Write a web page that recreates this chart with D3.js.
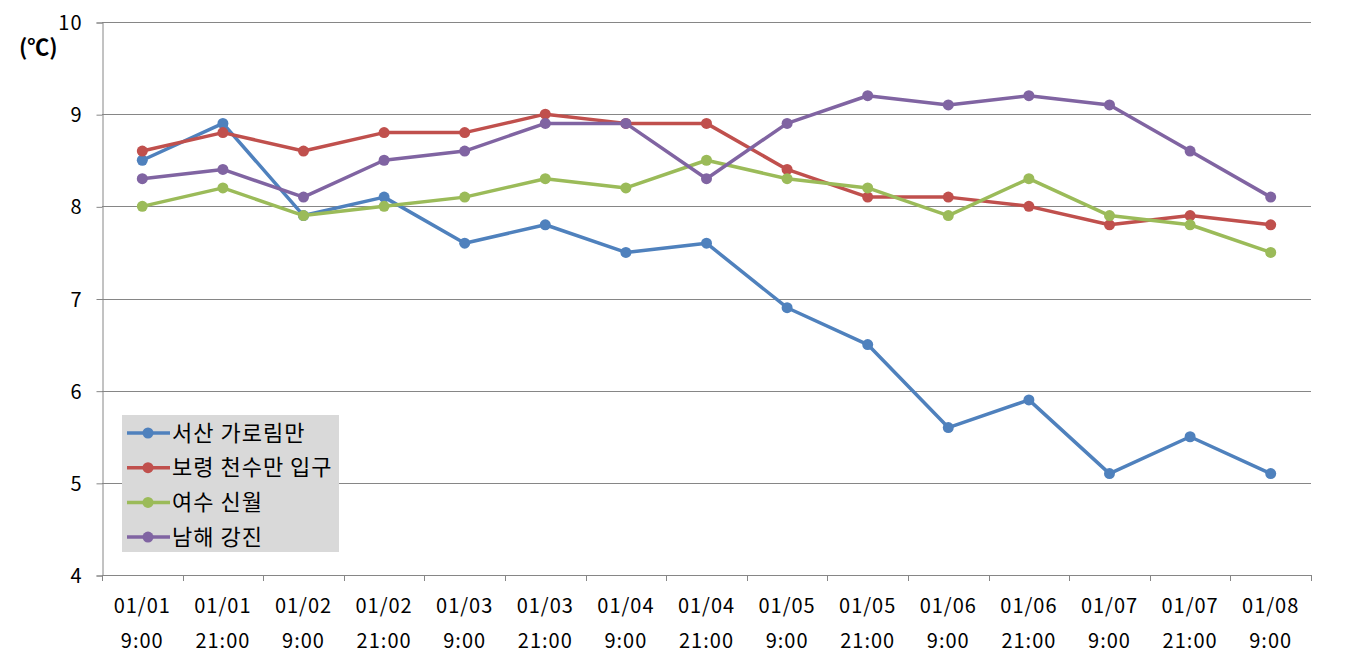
<!DOCTYPE html>
<html>
<head>
<meta charset="utf-8">
<script src="https://cdn.jsdelivr.net/npm/d3@7"></script>
<style>
  body { margin: 0; background: #fff; }
  text { font-family: "Noto Sans CJK KR", "Noto Sans", sans-serif; fill: #000; }
</style>
</head>
<body>
<div class="chart"></div>
<script>
var dates = ["01/01", "01/01", "01/02", "01/02", "01/03", "01/03", "01/04", "01/04",
             "01/05", "01/05", "01/06", "01/06", "01/07", "01/07", "01/08"];
var times = ["9:00", "21:00", "9:00", "21:00", "9:00", "21:00", "9:00", "21:00",
             "9:00", "21:00", "9:00", "21:00", "9:00", "21:00", "9:00"];

var seriesNames = ["서산 가로림만", "보령 천수만 입구", "여수 신월", "남해 강진"];
var seosan  = [8.5, 8.9, 7.9, 8.1, 7.6, 7.8, 7.5, 7.6, 6.9, 6.5, 5.6, 5.9, 5.1, 5.5, 5.1];
var boryeong = [8.6, 8.8, 8.6, 8.8, 8.8, 9.0, 8.9, 8.9, 8.4, 8.1, 8.1, 8.0, 7.8, 7.9, 7.8];
var yeosu   = [8.0, 8.2, 7.9, 8.0, 8.1, 8.3, 8.2, 8.5, 8.3, 8.2, 7.9, 8.3, 7.9, 7.8, 7.5];
var namhae  = [8.3, 8.4, 8.1, 8.5, 8.6, 8.9, 8.9, 8.3, 8.9, 9.2, 9.1, 9.2, 9.1, 8.6, 8.1];
var yTicks = [4, 5, 6, 7, 8, 9, 10];

var colors = ["#4f81bd", "#c0504d", "#9bbb59", "#8064a2"];
var allSeries = [seosan, boryeong, yeosu, namhae];

var chartW = 1354, chartH = 660;
var plotL = 102, plotR = 1311, plotT = 22, plotB = 575;

var svg = d3.select(".chart").append("svg")
    .attr("width", chartW)
    .attr("height", chartH);

var x = d3.scaleBand().domain(d3.range(dates.length)).range([plotL, plotR]);
var y = d3.scaleLinear().domain([4, 10]).range([plotB, plotT]);

// grid lines
svg.append("g").selectAll("line").data(yTicks.slice(1)).enter().append("line")
    .attr("x1", plotL).attr("x2", plotR)
    .attr("y1", function(d) { return Math.round(y(d)) + 0.5; })
    .attr("y2", function(d) { return Math.round(y(d)) + 0.5; })
    .attr("stroke", "#868686").attr("stroke-width", 1);

// y axis
var yAxis = svg.append("g")
    .attr("transform", "translate(" + (plotL + 0.5) + ",0.5)")
    .call(d3.axisLeft(y).tickValues(yTicks).tickSize(6).tickPadding(14).tickFormat(d3.format("d")));
yAxis.selectAll("path, line").attr("stroke", "#868686");
yAxis.selectAll("text").style("font-size", "20px").style("letter-spacing", "1px").attr("dy", "0.35em");

// x axis: ticks at category boundaries
svg.append("line")
    .attr("x1", plotL).attr("x2", plotR)
    .attr("y1", plotB + 0.5).attr("y2", plotB + 0.5)
    .attr("stroke", "#868686");
var bounds = d3.range(dates.length + 1);
svg.append("g").selectAll("line").data(bounds).enter().append("line")
    .attr("x1", function(d) { return Math.round(plotL + d * x.step()) + 0.5; })
    .attr("x2", function(d) { return Math.round(plotL + d * x.step()) + 0.5; })
    .attr("y1", plotB).attr("y2", plotB + 6)
    .attr("stroke", "#868686");

var xl = svg.append("g").selectAll("g").data(dates).enter().append("g")
    .attr("transform", function(d, i) { return "translate(" + (x(i) + x.bandwidth() / 2) + ",0)"; });
xl.append("text").attr("y", 613).attr("text-anchor", "middle")
    .style("font-size", "20px").style("letter-spacing", "1px")
    .text(function(d) { return d; });
xl.append("text").attr("y", 648).attr("text-anchor", "middle")
    .style("font-size", "20px").style("letter-spacing", "1px")
    .text(function(d, i) { return times[i]; });

// unit label
svg.append("text").attr("x", 19).attr("y", 55)
    .style("font-size", "22px").style("font-weight", "bold")
    .text("(℃)");

// lines
var line = d3.line()
    .x(function(d, i) { return x(i) + x.bandwidth() / 2; })
    .y(function(d) { return y(d); });

allSeries.forEach(function(s, k) {
    var g = svg.append("g");
    g.append("path").attr("d", line(s))
        .attr("fill", "none").attr("stroke", colors[k]).attr("stroke-width", 3.5)
        .attr("stroke-linejoin", "round");
    g.selectAll("circle").data(s).enter().append("circle")
        .attr("cx", function(d, i) { return x(i) + x.bandwidth() / 2; })
        .attr("cy", function(d) { return y(d); })
        .attr("r", 5.5)
        .attr("fill", colors[k]);
});

// legend
var legend = svg.append("g");
legend.append("rect")
    .attr("x", 122).attr("y", 415).attr("width", 217).attr("height", 137)
    .attr("fill", "#d9d9d9");
var item = legend.selectAll("g.item").data(seriesNames).enter().append("g")
    .attr("class", "item")
    .attr("transform", function(d, i) { return "translate(0," + (433 + i * 34.7) + ")"; });
item.append("line").attr("x1", 127).attr("x2", 170).attr("y1", 0).attr("y2", 0)
    .attr("stroke", function(d, i) { return colors[i]; }).attr("stroke-width", 3.5);
item.append("circle").attr("cx", 148).attr("cy", 0).attr("r", 5.5)
    .attr("fill", function(d, i) { return colors[i]; });
item.append("text").attr("x", 172).attr("y", 0).attr("dy", "0.35em")
    .style("font-size", "22px").style("letter-spacing", "1px")
    .text(function(d) { return d; });
</script>
</body>
</html>
